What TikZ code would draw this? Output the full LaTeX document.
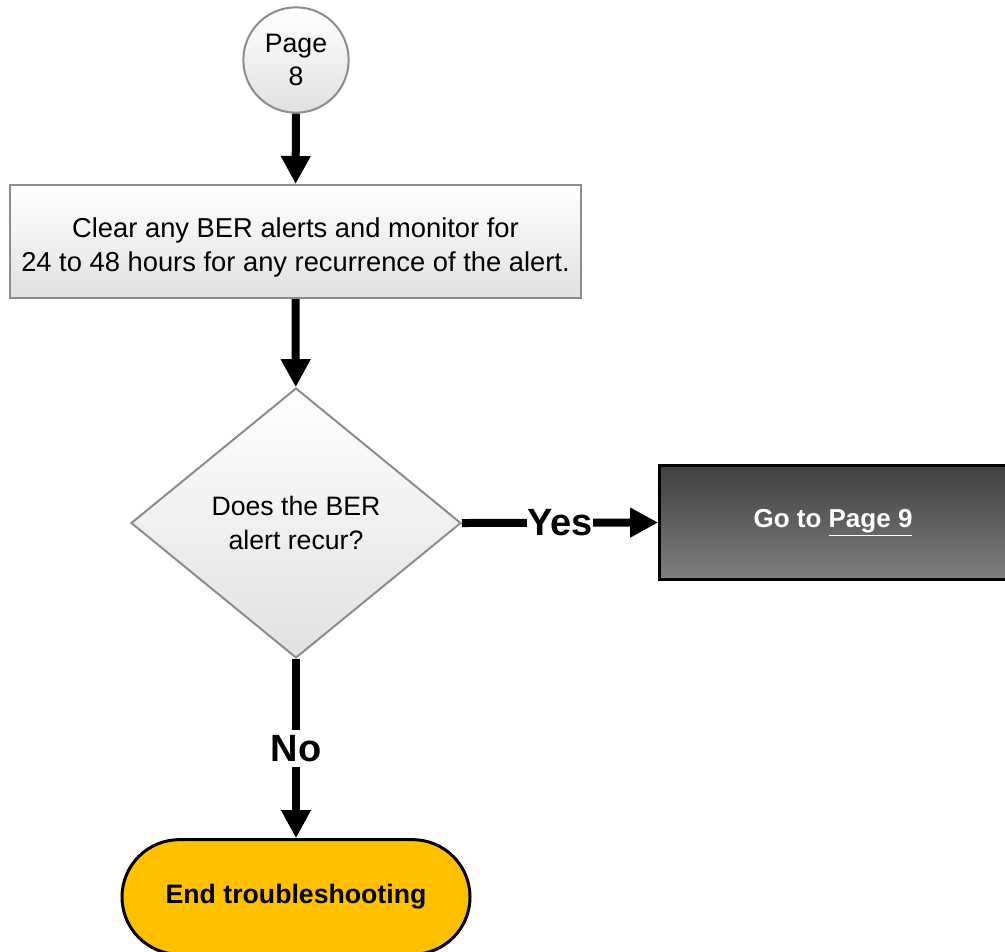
\documentclass[tikz,border=0pt]{standalone}
\usepackage{fontspec}
\setmainfont{Liberation Sans}
\usetikzlibrary{shapes.geometric,arrows.meta}
\begin{document}
\begin{tikzpicture}[x=0.75pt,y=-0.75pt,
  flow/.style={line width=6pt,-{Triangle[length=21pt,width=21pt]}},
  lightfill/.style={top color=white,bottom color=black!12,draw=black!45,line width=1.5pt},
  stepbox/.style={lightfill,rectangle,minimum width=428pt,minimum height=84.75pt,align=center,font=\fontsize{20.5}{25.5}\selectfont},
  decision/.style={lightfill,diamond,minimum width=247.5pt,minimum height=202.5pt,inner sep=0pt,align=center,font=\fontsize{20}{25}\selectfont},
  connector/.style={lightfill,circle,minimum size=79pt,inner sep=0pt,align=center,font=\fontsize{20}{24.5}\selectfont},
  gobox/.style={rectangle,top color=black!75,bottom color=black!50,draw=black,line width=2.25pt,minimum width=260pt,minimum height=85.5pt,text=white,font=\bfseries\fontsize{19.5}{22}\selectfont},
  terminal/.style={rectangle,rounded corners=43pt,fill={rgb,255:red,255;green,192;blue,0},draw=black,line width=2.25pt,minimum width=261pt,minimum height=86pt,font=\bfseries\fontsize{20}{24}\selectfont},
  answer/.style={fill=white,inner xsep=0pt,inner ysep=4pt,font=\bfseries\fontsize{28.5}{32}\selectfont}]
\useasboundingbox (0,0) rectangle (1005,951);
\clip (0,0) rectangle (1005,951);

\node[connector] (page8) at (296,60) {Page\\8};
\node[stepbox] (clear) at (295.5,241.5) {\rule{0pt}{23pt}Clear any BER alerts and monitor for\\24 to 48 hours for any recurrence of the alert.};
\node[decision] (recur) at (296,523) {Does the BER\\alert recur?};
\node[gobox] (goto) at (833,522.5) {Go to \underline{Page 9}};
\node[terminal] (finish) at (296,897) {End troubleshooting};

\draw[flow] (page8) -- (clear);
\draw[flow] (clear) -- (recur);
\draw[flow] (recur.east) -- node[answer,pos=0.5] {Yes} (goto.west);
\draw[flow] (recur.south) -- node[answer,pos=0.5] {No} (finish.north);
\end{tikzpicture}
\end{document}
